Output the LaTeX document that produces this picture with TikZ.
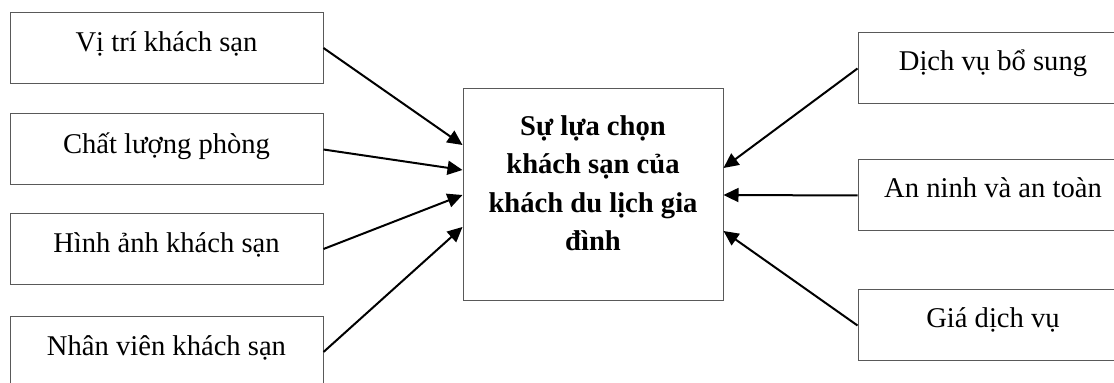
\documentclass[tikz,border=0pt]{standalone}
\usepackage{fontspec}
\setmainfont{Liberation Serif}
\usetikzlibrary{arrows.meta,calc}
\begin{document}
\begin{tikzpicture}[x=0.5pt,y=-0.5pt,
  box/.style={draw=black!65,line width=0.5pt,rectangle,inner sep=0pt,
    font=\fontsize{14.3}{19.25}\selectfont,align=center},
  leftbox/.style={box,minimum width=156.5pt,minimum height=35.5pt,text height=9.5pt,text depth=5.5pt},
  rightbox/.style={box,minimum width=135pt,minimum height=35.5pt,text height=9.5pt,text depth=7.5pt},
  link/.style={line width=1pt,-{Triangle[length=7.5pt,width=7pt]}}]
\useasboundingbox (0,0) rectangle (1114,383);
\node[leftbox] (l1) at (166.5,48) {Vị trí khách sạn};
\node[leftbox] (l2) at (166.5,149.5) {Chất lượng phòng};
\node[leftbox] (l3) at (166.5,249) {Hình ảnh khách sạn};
\node[leftbox] (l4) at (166.5,352) {Nhân viên khách sạn};
\node[box,minimum width=130pt,minimum height=106pt,font=\bfseries\fontsize{14.3}{19.25}\selectfont] (c) at (593,195)
  {Sự lựa chọn\\khách sạn của\\khách du lịch gia\\đình\rule[-12pt]{0pt}{1pt}};
\node[rightbox] (r1) at (993,68.5) {Dịch vụ bổ sung};
\node[rightbox] (r2) at (993,195.5) {An ninh và an toàn};
\node[rightbox] (r3) at (993,325.5) {Giá dịch vụ};
\coordinate (c1) at ($(c.west)+(0,-50)$);
\coordinate (c2) at ($(c.west)+(0,-25)$);
\coordinate (c3) at (c.west);
\coordinate (c4) at ($(c.west)+(0,32)$);
\coordinate (d1) at ($(c.east)+(0,-27)$);
\coordinate (d2) at (c.east);
\coordinate (d3) at ($(c.east)+(0,36)$);
\draw[link] (l1.east) -- (c1);
\draw[link] (l2.east) -- (c2);
\draw[link] (l3.east) -- (c3);
\draw[link] (l4.east) -- (c4);
\draw[link] (r1.west) -- (d1);
\draw[link] (r2.west) -- (d2);
\draw[link] (r3.west) -- (d3);
\end{tikzpicture}
\end{document}
